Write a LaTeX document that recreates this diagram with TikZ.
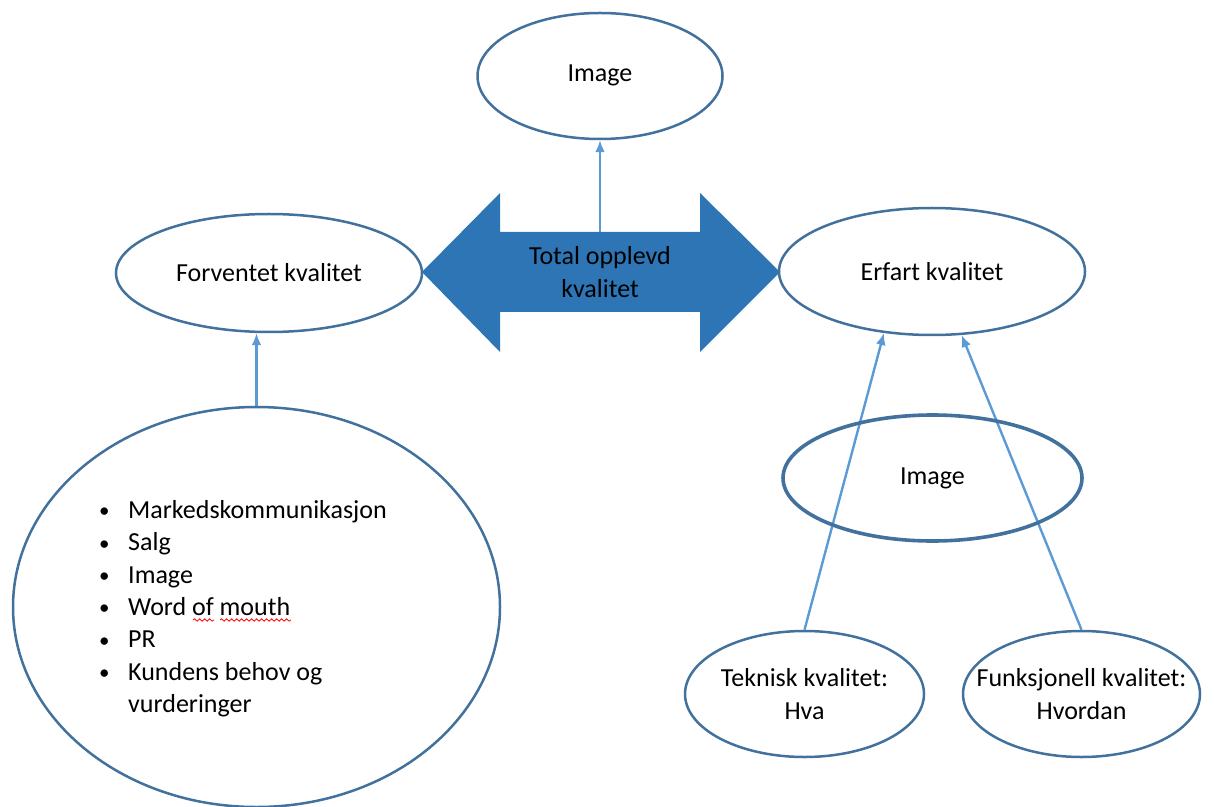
\documentclass[tikz,border=0pt]{standalone}
\usepackage{fontspec}
\setmainfont{Carlito}
\usetikzlibrary{positioning,shapes,arrows,arrows.meta,decorations.pathmorphing}

\definecolor{kant}{HTML}{41719C}
\definecolor{pilmork}{HTML}{2E75B6}
\definecolor{pillys}{HTML}{5B9BD5}

\newcommand{\prikk}{\raisebox{0.3pt}{\fontsize{10.5}{10.5}\selectfont\textbullet}}

\begin{document}
\begin{tikzpicture}[
  x=0.5pt, y=-0.5pt,
  every node/.style={font=\fontsize{13}{16.5}\selectfont},
  boble/.style={draw=kant,line width=1.25pt,ellipse,inner sep=0pt,align=center},
  tynnpil/.style={draw=pillys,line width=1.2pt,-{Latex[length=6pt,width=5pt]}},
  krusete/.style={draw=red,line width=0.4pt,decorate,decoration={snake,amplitude=0.6pt,segment length=2.5pt}}
]
\useasboundingbox (0,0) rectangle (1214,807);
% double arrow in the middle
\fill[pilmork] (422,272) -- (500,193) -- (500,232) -- (700,232) -- (700,193)
  -- (780,272) -- (700,352) -- (700,312) -- (500,312) -- (500,352) -- cycle;
\node[minimum width=100pt,minimum height=40pt,inner sep=0pt,align=center] (total) at (600,272) {Total opplevd\\kvalitet};
\node[boble,minimum width=122.5pt,minimum height=63pt] (img) at (600,76) {\raisebox{3pt}{Image}};
\node[boble,minimum width=153pt,minimum height=59pt] (fk) at (269,273) {Forventet kvalitet};
\node[boble,minimum width=153pt,minimum height=63.5pt] (ek) at (932,271.5) {Erfart kvalitet};
\node[boble,minimum width=243.5pt,minimum height=200pt] (kilder) at (256.5,607) {};
\node[inner sep=0pt,font=\fontsize{13}{16.15}\selectfont] (liste) at (243,609) {%
\begin{tabular}{@{}p{14.5pt}@{}l@{}}
\prikk & Markedskommunikasjon\\
\prikk & Salg\\
\prikk & Image\\
\prikk & Word of mouth\\
\prikk & PR\\
\prikk & Kundens behov og\\
 & vurderinger
\end{tabular}};
% spell-check marks under "of mouth"
\draw[krusete,shift={(liste.center)}] (-50,11) -- (-29,11);
\draw[krusete,shift={(liste.center)}] (-23,11) -- (48,11);
\node[boble,minimum width=119.5pt,minimum height=63pt,
  label={[align=center]center:{Teknisk kvalitet:\\Hva}}] (tk) at (804.5,694) {};
\node[boble,minimum width=118.5pt,minimum height=63pt,
  label={[align=center]center:{Funksjonell kvalitet:\\Hvordan}}] (fnk) at (1081.5,694) {};
% connectors
\draw[tynnpil] (total.north) -- (total.north |- img.south);
\draw[tynnpil] (kilder.north) -- (kilder.north |- fk.south);
\draw[tynnpil] (tk.north) -- (ek.232);
\draw[tynnpil] (fnk.north) -- (ek.295);
\node[boble,line width=1.8pt,minimum width=149.5pt,minimum height=63pt] (img2) at (932.5,478) {Image};
\end{tikzpicture}
\end{document}
